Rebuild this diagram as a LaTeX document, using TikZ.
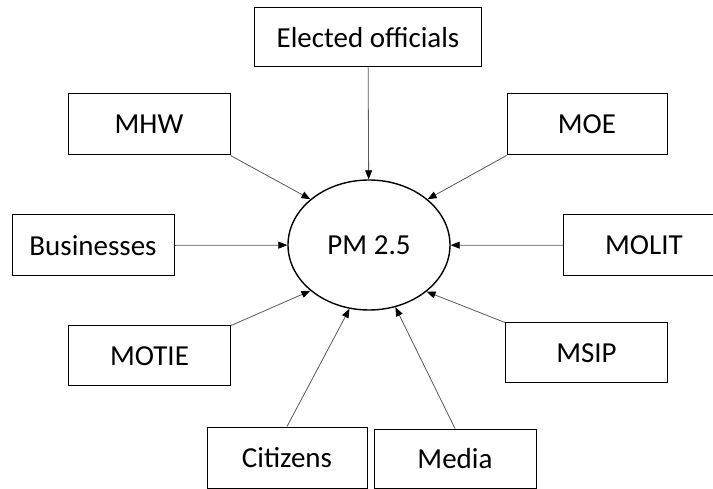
\documentclass[tikz,border=0pt]{standalone}
\usepackage{fontspec}
\setmainfont{Carlito}
\usetikzlibrary{arrows.meta,shapes.geometric}

\tikzset{
  actor/.style={draw, line width=1pt, minimum width=162pt, minimum height=61pt,
    font=\fontsize{29}{35}\selectfont},
  issue/.style={draw, ellipse, line width=1.4pt, minimum width=162pt, minimum height=130pt,
    font=\fontsize{29}{35}\selectfont},
  link/.style={-{Triangle[length=9pt,width=7pt,black]}, draw=black!65, line width=0.8pt}
}

\begin{document}
\begin{tikzpicture}[x=1pt,y=-1pt]
  \useasboundingbox (0,0) rectangle (713,489);

  \node[issue] (pm) at (369,245) {PM 2.5};

  \node[actor, minimum width=227pt, minimum height=59pt] (elected) at (368,37.5) {Elected officials};
  \node[actor] (mhw) at (149,124.5) {MHW};
  \node[actor, minimum width=160pt] (moe) at (587,124.5) {MOE};
  \node[actor] (business) at (93,245.5) {Businesses};
  \node[actor] (molit) at (644,245.5) {MOLIT};
  \node[actor, minimum height=60pt] (motie) at (149.5,356) {MOTIE};
  \node[actor, minimum height=60pt] (msip) at (586.5,353) {MSIP};
  \node[actor, minimum width=160pt] (citizens) at (287,457.5) {Citizens};
  \node[actor, minimum height=59pt] (media) at (455,458.5) {Media};

  \draw[link] (elected) -- (pm);
  \draw[link] (mhw.south east) -- (pm.142);
  \draw[link] (moe.south west) -- (pm.38);
  \draw[link] (business) -- (pm);
  \draw[link] (molit) -- (pm);
  \draw[link] (motie.north east) -- (pm.218);
  \draw[link] (msip.north west) -- (pm.321);
  \draw[link] (citizens.north) -- (pm.253);
  \draw[link] (media.north) -- (pm.293);
\end{tikzpicture}
\end{document}
